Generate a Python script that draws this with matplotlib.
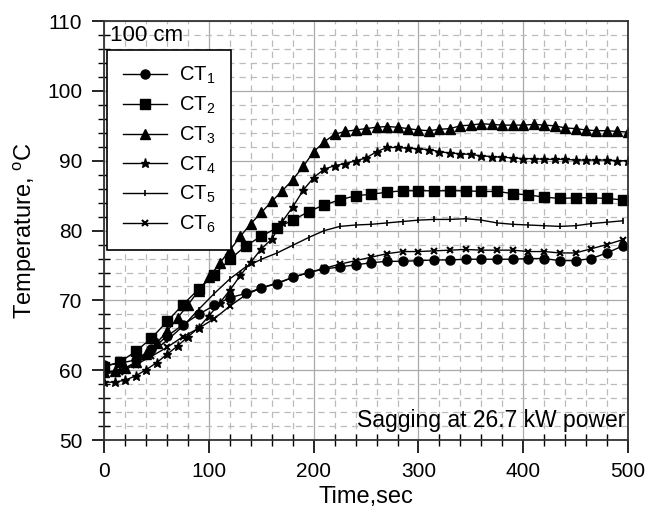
import numpy as np
import matplotlib
matplotlib.use("Agg")
import matplotlib.pyplot as plt
from matplotlib.ticker import MultipleLocator

plt.rcParams["font.family"] = ["Liberation Sans", "DejaVu Sans"]
plt.rcParams["mathtext.default"] = "regular"

# sample times (s): CT1, CT2, CT5, CT6 every 15 s; CT3, CT4 every 10 s
t15 = [0, 15, 30, 45, 60, 75, 90, 105, 120, 135, 150, 165, 180, 195, 210, 225, 240,
       255, 270, 285, 300, 315, 330, 345, 360, 375, 390, 405, 420, 435, 450, 465, 480, 495]
t10 = [0, 10, 20, 30, 40, 50, 60, 70, 80, 90, 100, 110, 120, 130, 140, 150, 160, 170,
       180, 190, 200, 210, 220, 230, 240, 250, 260, 270, 280, 290, 300, 310, 320, 330,
       340, 350, 360, 370, 380, 390, 400, 410, 420, 430, 440, 450, 460, 470, 480, 490, 500]

ct1 = [60.7, 61.0, 61.5, 63.0, 64.9, 66.5, 68.0, 69.3, 70.4, 71.0, 71.8, 72.4, 73.3, 74.0,
       74.5, 74.8, 75.1, 75.4, 75.6, 75.6, 75.7, 75.8, 75.8, 75.9, 75.9, 75.9, 75.9, 76.0,
       76.0, 75.7, 75.7, 76.0, 76.8, 77.8]
ct2 = [60.5, 61.2, 62.7, 64.6, 67.0, 69.4, 71.6, 73.7, 75.9, 77.8, 79.2, 80.4, 81.5, 82.7,
       83.7, 84.4, 85.0, 85.2, 85.5, 85.7, 85.7, 85.7, 85.7, 85.7, 85.6, 85.6, 85.3, 85.1,
       84.8, 84.6, 84.7, 84.7, 84.6, 84.4]
ct3 = [59.7, 59.9, 60.3, 61.2, 62.4, 63.9, 65.6, 67.5, 69.4, 71.4, 73.3, 75.3, 77.2, 79.2,
       81.0, 82.6, 84.2, 85.7, 87.3, 89.2, 91.3, 92.7, 93.8, 94.2, 94.4, 94.6, 94.8, 94.9,
       94.8, 94.6, 94.4, 94.3, 94.5, 94.6, 95.0, 95.1, 95.3, 95.2, 95.1, 95.1, 95.1, 95.2,
       95.1, 95.0, 94.7, 94.6, 94.4, 94.3, 94.3, 94.2, 94.1]
ct4 = [58.3, 58.3, 58.6, 59.2, 60.1, 61.1, 62.3, 63.5, 64.8, 66.1, 67.8, 69.6, 71.5, 73.6,
       75.5, 77.4, 78.8, 81.3, 83.4, 85.8, 87.6, 88.8, 89.3, 89.6, 90.0, 90.4, 91.3, 91.9,
       91.9, 91.8, 91.7, 91.6, 91.3, 91.1, 91.0, 90.9, 90.7, 90.6, 90.5, 90.4, 90.3, 90.3,
       90.2, 90.2, 90.2, 90.1, 90.1, 90.1, 90.1, 90.0, 90.0]
ct5 = [59.7, 60.0, 61.0, 62.5, 64.3, 66.3, 68.7, 71.0, 73.1, 74.8, 75.9, 76.8, 77.9, 79.0,
       80.0, 80.6, 80.8, 80.9, 81.1, 81.3, 81.5, 81.6, 81.6, 81.7, 81.5, 81.1, 80.9, 80.8,
       80.7, 80.6, 80.7, 81.0, 81.2, 81.4]
ct6 = [59.5, 59.8, 60.8, 62.0, 63.3, 64.8, 66.0, 67.4, 69.2, 70.8, 71.8, 72.5, 73.3, 74.0,
       74.6, 75.2, 75.7, 76.2, 76.7, 77.0, 77.0, 77.1, 77.2, 77.3, 77.2, 77.2, 77.2, 77.0,
       77.0, 76.8, 76.8, 77.4, 78.0, 78.7]

fig = plt.figure(figsize=(6.48, 5.13), dpi=100)
ax = fig.add_axes([0.161, 0.142, 0.808, 0.817])

ax.plot(t15, ct1, "-k", lw=1, marker="o", ms=6.5, label="CT$_1$")
ax.plot(t15, ct2, "-k", lw=1, marker="s", ms=6.5, label="CT$_2$")
ax.plot(t10, ct3, "-k", lw=1, marker="^", ms=6.5, label="CT$_3$")
ax.plot(t10, ct4, "-k", lw=1, marker="*", ms=6.5, label="CT$_4$")
ax.plot(t15, ct5, "-k", lw=1, marker="|", ms=5, mew=1.2, label="CT$_5$")
ax.plot(t15, ct6, "-k", lw=1, marker="x", ms=5, mew=1.5, label="CT$_6$")

ax.set_xlim(0, 500)
ax.set_ylim(50, 110)
ax.xaxis.set_major_locator(MultipleLocator(100))
ax.xaxis.set_minor_locator(MultipleLocator(20))
ax.yaxis.set_major_locator(MultipleLocator(10))
ax.yaxis.set_minor_locator(MultipleLocator(2))
ax.tick_params(which="major", direction="out", length=9, width=1.2, labelsize=15, pad=7)
ax.tick_params(which="minor", direction="inout", length=8, width=1)
ax.grid(which="major", color="#aaaaaa", lw=0.9, ls="-")
ax.grid(which="minor", color="#bbbbbb", lw=0.9, ls=(0, (5, 4)))
ax.set_axisbelow(True)
for s in ax.spines.values():
    s.set_linewidth(1.3)
    s.set_color("#333333")

ax.set_xlabel("Time,sec", fontsize=17, labelpad=3)
ax.set_ylabel("Temperature, $^{o}$C", fontsize=17, labelpad=6)

ax.text(0.01, 0.99, "100 cm", transform=ax.transAxes, ha="left", va="top", fontsize=16)
ax.text(0.995, 0.02, "Sagging at 26.7 kW power", transform=ax.transAxes, ha="right",
        va="bottom", fontsize=16.5)

leg = ax.legend(loc="upper left", bbox_to_anchor=(0.006, 0.931), borderaxespad=0,
                fontsize=14.5, frameon=True, fancybox=False, edgecolor="black",
                framealpha=1, handlelength=2.2, labelspacing=0.42, borderpad=0.75,
                handletextpad=0.6)
leg.get_frame().set_linewidth(1.2)

fig.savefig("out.png", dpi=100)
